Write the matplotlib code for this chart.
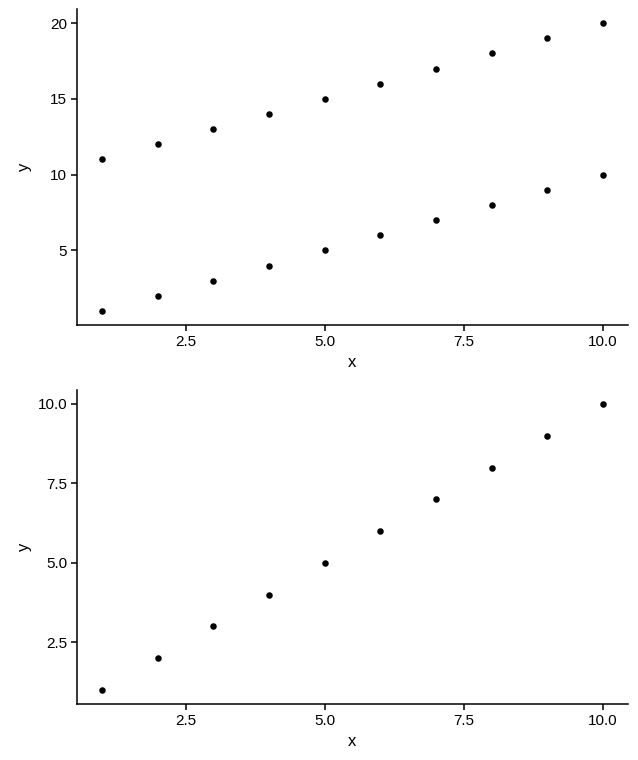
import matplotlib.pyplot as plt

plt.rcParams['font.family'] = ['Liberation Sans', 'DejaVu Sans']

x = [1, 2, 3, 4, 5, 6, 7, 8, 9, 10]
y_low = [1, 2, 3, 4, 5, 6, 7, 8, 9, 10]
y_high = [11, 12, 13, 14, 15, 16, 17, 18, 19, 20]
y_bottom = [1, 2, 3, 4, 5, 6, 7, 8, 9, 10]

fig = plt.figure(figsize=(6.38, 7.6), dpi=100)
ax1 = fig.add_axes([0.1207, 0.5718, 0.8636, 0.4168])
ax2 = fig.add_axes([0.1207, 0.0733, 0.8636, 0.414])


def style(ax, ys, yticks, ylabels):
    ax.set_xlim(0.55, 10.45)
    lo, hi = min(min(y) for y in ys), max(max(y) for y in ys)
    pad = (hi - lo) * 0.05
    ax.set_ylim(lo - pad, hi + pad)
    for y in ys:
        ax.scatter(x, y, s=22, color='black', linewidths=0, zorder=3)
    ax.set_xticks([2.5, 5.0, 7.5, 10.0])
    ax.set_xticklabels(['2.5', '5.0', '7.5', '10.0'])
    ax.set_yticks(yticks)
    ax.set_yticklabels(ylabels)
    for s in ['top', 'right']:
        ax.spines[s].set_visible(False)
    for s in ['left', 'bottom']:
        ax.spines[s].set_linewidth(1.1)
    ax.tick_params(length=4, width=1.1, labelsize=11, pad=3, colors='black')
    ax.set_xlabel('x', fontsize=12, labelpad=4)
    ax.set_ylabel('y', fontsize=12)
    # both y titles line up at the same distance from the axis
    ax.yaxis.set_label_coords(-0.082, 0.5)


style(ax1, [y_low, y_high], [5, 10, 15, 20], ['5', '10', '15', '20'])
style(ax2, [y_bottom], [2.5, 5.0, 7.5, 10.0], ['2.5', '5.0', '7.5', '10.0'])

fig.savefig('out.png', dpi=100)
